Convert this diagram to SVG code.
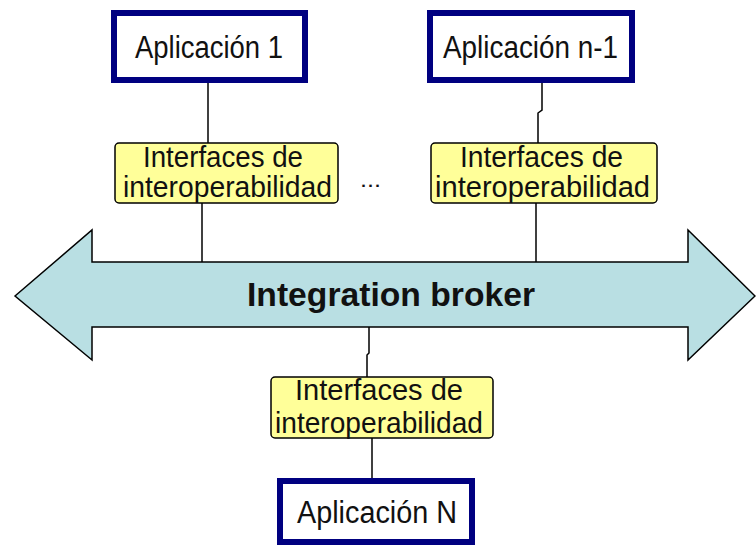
<svg xmlns="http://www.w3.org/2000/svg" width="756" height="547" viewBox="0 0 756 547">
<style>
.app rect{fill:#fff;stroke:#000080;stroke-width:6}
.ifc rect{fill:#ffff99;stroke:#000;stroke-width:1.5}
text{font-family:"Liberation Sans",Arial,sans-serif;fill:#111;text-anchor:middle}
.t{font-size:29px}
.a{font-size:31px}
.b{font-size:33px;font-weight:bold}
#connectors path{fill:none;stroke:#000;stroke-width:1.5}
</style>
<rect width="756" height="547" fill="#fff"/>
<g id="broker">
<polygon points="15,296 92,230 92,262 688,262 688,230 755,296 688,360 688,327 92,327 92,360" fill="#b9dfe3" stroke="#000" stroke-width="1.5"/>
<text class="b" x="391" y="306" textLength="288" lengthAdjust="spacingAndGlyphs">Integration broker</text>
</g>
<g id="connectors">
<path d="M208 83V143"/>
<path d="M202 203V262"/>
<path d="M542 83V110L538 113V143"/>
<path d="M536 203V262"/>
<path d="M369 327V353L367 355V377"/>
<path d="M372 438V478"/>
</g>
<g id="app1" class="app">
<rect x="114" y="13" width="191" height="67"/>
<text class="a" x="209" y="58" textLength="148" lengthAdjust="spacingAndGlyphs">Aplicación 1</text>
</g>
<g id="appn1" class="app">
<rect x="430" y="13" width="202" height="67"/>
<text class="a" x="530.5" y="58" textLength="175" lengthAdjust="spacingAndGlyphs">Aplicación n-1</text>
</g>
<g id="appN" class="app">
<rect x="280" y="481" width="192" height="61"/>
<text class="a" x="377" y="523" textLength="160" lengthAdjust="spacingAndGlyphs">Aplicación N</text>
</g>
<g id="ifc1" class="ifc">
<rect x="115" y="143" width="223" height="60" rx="4"/>
<text class="t" x="223" y="167" textLength="160" lengthAdjust="spacingAndGlyphs">Interfaces de</text>
<text class="t" x="227.5" y="197" textLength="209" lengthAdjust="spacingAndGlyphs">interoperabilidad</text>
</g>
<g id="ifc2" class="ifc">
<rect x="431" y="143" width="226" height="60" rx="4"/>
<text class="t" x="541.5" y="167" textLength="163" lengthAdjust="spacingAndGlyphs">Interfaces de</text>
<text class="t" x="542.5" y="197" textLength="215" lengthAdjust="spacingAndGlyphs">interoperabilidad</text>
</g>
<g id="ifc3" class="ifc">
<rect x="271" y="377" width="222" height="61" rx="4"/>
<text class="t" x="379" y="400" textLength="168" lengthAdjust="spacingAndGlyphs">Interfaces de</text>
<text class="t" x="379" y="433" textLength="208" lengthAdjust="spacingAndGlyphs">interoperabilidad</text>
</g>
<g id="dots">
<text x="370.5" y="187" style="font-size:22px" textLength="21" lengthAdjust="spacingAndGlyphs">...</text>
</g>
</svg>
